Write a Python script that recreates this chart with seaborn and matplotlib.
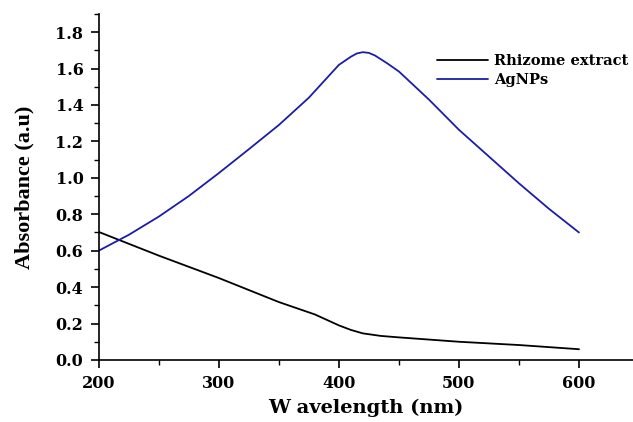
import matplotlib
matplotlib.use("Agg")
import matplotlib.pyplot as plt
import seaborn as sns
import pandas as pd
from matplotlib.ticker import MultipleLocator, FormatStrFormatter

# values
rhizome_nm = [200, 250, 300, 350, 380, 400, 410, 420, 435, 450, 500, 550, 600]
rhizome_abs = [0.703, 0.573, 0.45, 0.318, 0.25, 0.19, 0.165, 0.146, 0.132, 0.124, 0.10, 0.082, 0.059]

agnp_nm = [200, 225, 250, 275, 300, 325, 350, 375, 400, 410, 415, 420, 425, 430, 440, 450,
           475, 500, 525, 550, 575, 600]
agnp_abs = [0.60, 0.687, 0.787, 0.90, 1.026, 1.157, 1.29, 1.44, 1.62, 1.665, 1.683, 1.69, 1.686,
            1.672, 1.63, 1.584, 1.43, 1.264, 1.117, 0.97, 0.83, 0.70]

series_names = ["Rhizome extract", "AgNPs"]
x_ticks = [200, 300, 400, 500, 600]

data = pd.concat([
    pd.DataFrame({"nm": rhizome_nm, "abs": rhizome_abs, "sample": series_names[0]}),
    pd.DataFrame({"nm": agnp_nm, "abs": agnp_abs, "sample": series_names[1]}),
])

sns.set_style("ticks")
plt.rcParams["font.family"] = ["DejaVu Serif"]
plt.rcParams["font.weight"] = "bold"
for key in ["text.color", "axes.labelcolor", "xtick.color", "ytick.color", "axes.edgecolor"]:
    plt.rcParams[key] = "black"

fig = plt.figure(figsize=(6.33, 4.22), dpi=100)
ax = fig.add_axes([0.156, 0.147, 0.844, 0.82])

sns.lineplot(data=data, x="nm", y="abs", hue="sample", estimator=None, sort=False,
             palette={"Rhizome extract": "black", "AgNPs": "#1c1ca8"},
             linewidth=1.3, ax=ax)

ax.set_xlim(200, 645)
ax.set_ylim(0, 1.9)
ax.set_xticks(x_ticks)
ax.xaxis.set_minor_locator(MultipleLocator(50))
ax.yaxis.set_major_locator(MultipleLocator(0.2))
ax.yaxis.set_minor_locator(MultipleLocator(0.1))
ax.yaxis.set_major_formatter(FormatStrFormatter("%.1f"))
ax.tick_params(which="major", direction="out", length=6, width=1.2, labelsize=11.5, pad=5)
ax.tick_params(which="minor", direction="out", length=3.5, width=1.0)
for lbl in ax.get_xticklabels() + ax.get_yticklabels():
    lbl.set_fontweight("bold")
for side in ["top", "right"]:
    ax.spines[side].set_visible(False)
for side in ["left", "bottom"]:
    ax.spines[side].set_linewidth(1.2)

ax.set_xlabel("W avelength (nm)", fontsize=14, fontweight="bold", labelpad=5)
ax.set_ylabel("Absorbance (a.u)", fontsize=16, fontweight="bold", labelpad=15,
              family="Liberation Serif")

leg = ax.legend(loc="upper left", bbox_to_anchor=(0.622, 0.90), frameon=False,
                handlelength=3.5, handletextpad=0.45, borderaxespad=0, labelspacing=0.35,
                prop={"family": "DejaVu Serif", "weight": "bold", "size": 10.5})

fig.savefig("out.png", dpi=100)
